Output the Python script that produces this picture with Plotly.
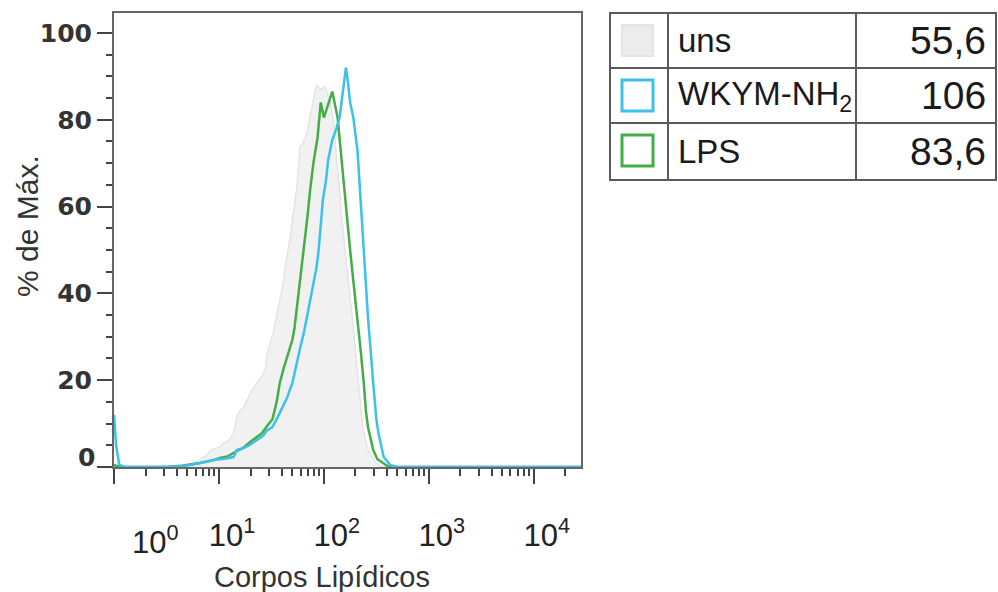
import numpy as np
import plotly.graph_objects as go

# Histogram traces: position on the log10 intensity axis and % of max
uns_log_x = [0.0, 0.3, 0.5, 0.65, 0.75, 0.82, 0.88, 0.92, 0.97, 1.01, 1.04, 1.09, 1.12, 1.14,
             1.17, 1.20, 1.23, 1.27, 1.30, 1.35, 1.40, 1.44, 1.46, 1.49, 1.52, 1.55, 1.58,
             1.61, 1.63, 1.66, 1.68, 1.70, 1.72, 1.74, 1.76, 1.77, 1.80, 1.84, 1.87, 1.90,
             1.93, 1.97, 2.01, 2.05, 2.09, 2.14, 2.20, 2.27, 2.33, 2.37, 2.42, 2.50, 2.56, 4.45]
uns_pct = [0, 0, 0.2, 0.5, 0.8, 1.6, 2.6, 3.9, 4.2, 4.6, 5.5, 6.0, 7.0, 7.8,
           11.5, 13, 13.5, 15.5, 17, 19, 20.5, 22.4, 26, 28.6, 31, 35, 38.5,
           42, 46, 50, 53, 57, 60, 64, 70, 73.7, 74.5, 77, 81, 84.5,
           88, 87, 87.6, 85, 80, 66, 50, 34.6, 19.4, 9.2, 3.9, 0.9, 0, 0]

wkym_log_x = [0.0, 0.02, 0.05, 0.1, 0.5, 0.66, 0.8, 0.95, 1.05, 1.14, 1.17, 1.25, 1.30, 1.36,
              1.42, 1.46, 1.51, 1.56, 1.61, 1.65, 1.70, 1.74, 1.77, 1.81, 1.84, 1.87, 1.90,
              1.93, 1.95, 1.97, 1.99, 2.02, 2.04, 2.08, 2.12, 2.15, 2.18, 2.21, 2.23, 2.25,
              2.28, 2.32, 2.35, 2.38, 2.42, 2.47, 2.50, 2.52, 2.57, 2.63, 2.70, 4.45]
wkym_pct = [12, 5, 0.5, 0, 0, 0.2, 0.8, 1.6, 1.9, 2.3, 3.9, 4.5, 5.2, 6.2,
            7.2, 8.5, 9.2, 11.5, 13.8, 16, 19.4, 24, 27, 31, 34.6, 39, 42.4,
            46, 50, 56, 61.5, 66, 70.7, 75.3, 78, 80.6, 86, 92, 88.5, 84,
            80.6, 73, 61.5, 50, 34.6, 19.4, 11, 7.8, 2.3, 0.5, 0, 0]

lps_log_x = [0.0, 0.05, 0.5, 0.65, 0.82, 0.95, 1.01, 1.08, 1.15, 1.23, 1.30, 1.36, 1.41, 1.46,
             1.51, 1.55, 1.58, 1.62, 1.66, 1.70, 1.72, 1.74, 1.77, 1.80, 1.82, 1.84, 1.87,
             1.90, 1.94, 1.97, 2.00, 2.03, 2.06, 2.08, 2.10, 2.13, 2.16, 2.19, 2.22, 2.25,
             2.28, 2.32, 2.35, 2.38, 2.40, 2.42, 2.45, 2.47, 2.51, 2.56, 2.62, 4.45]
lps_pct = [0.5, 0, 0, 0.3, 0.9, 1.6, 2.1, 2.4, 3.4, 4.4, 5.8, 6.8, 7.8, 9.5,
           11, 15, 19.4, 23, 26, 29.3, 32, 36, 42.4, 48, 53, 57, 64,
           70, 76, 84, 80.5, 83, 85, 86.5, 84, 80.6, 73, 65, 57, 50,
           43, 34.6, 27, 19.4, 13, 9.2, 5.5, 3.9, 1.8, 0.9, 0, 0]

# Legend table: sample names and median intensities
sample_names = ["uns", "WKYM-NH<sub>2</sub>", "LPS"]
median_values = ["55,6", "106", "83,6"]

# Axis ticks
x_major = [1, 10, 100, 1000, 10000]
x_major_text = ["", "10<sup>1</sup>", "10<sup>2</sup>", "10<sup>3</sup>", "10<sup>4</sup>"]
y_major = [0, 20, 40, 60, 80, 100]
y_major_text = ["", "20", "40", "60", "80", "100"]

GRAY_FILL = "#f1f1f1"
GRAY_LINE = "#e4e4e4"
CYAN = "#3cc0ec"
GREEN = "#43ae45"
INK = "#333333"
XTICK_FONT = dict(family="Liberation Sans, Arial", size=31, color="#222222")
YTICK_FONT = dict(family="DejaVu Sans", size=25, color=INK, weight="bold")

# plot area in pixels
L, R, T, B = 114, 581, 13, 467
W, H = R - L, B - T


def px_x(p):
    return (p - L) / W


def px_y(p):
    return (B - p) / H


fig = go.Figure()
fig.add_trace(go.Scatter(x=10 ** np.array(uns_log_x), y=uns_pct, mode="lines",
                         fill="tozeroy", fillcolor=GRAY_FILL,
                         line=dict(color=GRAY_LINE, width=1.5), showlegend=False))
fig.add_trace(go.Scatter(x=10 ** np.array(lps_log_x), y=lps_pct, mode="lines",
                         line=dict(color=GREEN, width=2.5), showlegend=False))
fig.add_trace(go.Scatter(x=10 ** np.array(wkym_log_x), y=wkym_pct, mode="lines",
                         line=dict(color=CYAN, width=2.5), showlegend=False))

minor_x = [m * 10 ** d for d in range(0, 5) for m in range(2, 10) if m * 10 ** d < 10 ** 4.45]

fig.update_xaxes(type="log", range=[0, 4.45], showgrid=False, zeroline=False,
                 showline=True, linecolor="#666666", linewidth=2, mirror=True,
                 ticks="outside", ticklen=15, tickwidth=2, tickcolor="#444444",
                 tickmode="array", tickvals=x_major, ticktext=x_major_text,
                 ticklabelshift=13, ticklabelstandoff=25,
                 tickfont=XTICK_FONT,
                 minor=dict(tickmode="array", tickvals=minor_x, ticks="outside",
                            ticklen=7, tickwidth=2, tickcolor="#444444", showgrid=False))
fig.update_yaxes(range=[0, 104.6], showgrid=False, zeroline=False,
                 showline=True, linecolor="#666666", linewidth=2, mirror=True,
                 ticks="outside", ticklen=15, tickwidth=2, tickcolor="#444444",
                 tickmode="array", tickvals=y_major, ticktext=y_major_text,
                 tickfont=YTICK_FONT,
                 minor=dict(dtick=5, ticks="outside", ticklen=6, tickwidth=2,
                            tickcolor="#444444", showgrid=False))

annotations = [
    # first decade label and the zero label sit slightly apart from their ticks
    dict(text="10<sup>0</sup>", x=px_x(155), y=px_y(540), xref="paper", yref="paper",
         showarrow=False, xanchor="center", yanchor="middle", font=XTICK_FONT),
    dict(text="0", x=px_x(97), y=px_y(457), xref="paper", yref="paper",
         showarrow=False, xanchor="right", yanchor="middle", font=YTICK_FONT),
    dict(text="% de Máx.", x=px_x(27), y=px_y(226), xref="paper", yref="paper",
         showarrow=False, textangle=-90, xanchor="center", yanchor="middle",
         font=dict(family="Liberation Sans, Arial", size=30, color=INK)),
    dict(text="Corpos Lipídicos", x=px_x(322), y=px_y(577), xref="paper", yref="paper",
         showarrow=False, xanchor="center", yanchor="middle",
         font=dict(family="Liberation Sans, Arial", size=29, color=INK)),
]

shapes = []
# legend table grid
tx0, tx1, c1, c2 = 610, 996, 668, 856
rows = [13, 68, 123, 180]
tline = dict(color="#5a5a5a", width=2)
shapes.append(dict(type="rect", xref="paper", yref="paper", x0=px_x(tx0), x1=px_x(tx1),
                   y0=px_y(rows[0]), y1=px_y(rows[-1]), line=tline))
for cx in (c1, c2):
    shapes.append(dict(type="line", xref="paper", yref="paper", x0=px_x(cx), x1=px_x(cx),
                       y0=px_y(rows[0]), y1=px_y(rows[-1]), line=tline))
for ry in rows[1:-1]:
    shapes.append(dict(type="line", xref="paper", yref="paper", x0=px_x(tx0), x1=px_x(tx1),
                       y0=px_y(ry), y1=px_y(ry), line=tline))

swatch_style = [
    dict(fillcolor="#ececec", line=dict(color="#e4e4e4", width=2)),
    dict(fillcolor="rgba(0,0,0,0)", line=dict(color=CYAN, width=3)),
    dict(fillcolor="rgba(0,0,0,0)", line=dict(color=GREEN, width=3)),
]
for i, (name, val) in enumerate(zip(sample_names, median_values)):
    top, bot = rows[i], rows[i + 1]
    mid = (top + bot) / 2
    shapes.append(dict(type="rect", xref="paper", yref="paper",
                       x0=px_x(622), x1=px_x(653), y0=px_y(top + 12), y1=px_y(top + 43),
                       **swatch_style[i]))
    annotations.append(dict(text=name, x=px_x(676), y=px_y(mid), xref="paper", yref="paper",
                            showarrow=False, xanchor="left", yanchor="middle",
                            font=dict(family="Liberation Sans, Arial", size=33, color="#1a1a1a")))
    annotations.append(dict(text=val, x=px_x(988), y=px_y(mid), xref="paper", yref="paper",
                            showarrow=False, xanchor="right", yanchor="middle",
                            font=dict(family="Liberation Sans, Arial", size=39, color="#1a1a1a")))

fig.update_layout(width=998, height=592, autosize=False,
                  margin=dict(l=L, r=998 - R, t=T, b=592 - B),
                  paper_bgcolor="white", plot_bgcolor="white",
                  annotations=annotations, shapes=shapes)

fig.write_html("out.html")
